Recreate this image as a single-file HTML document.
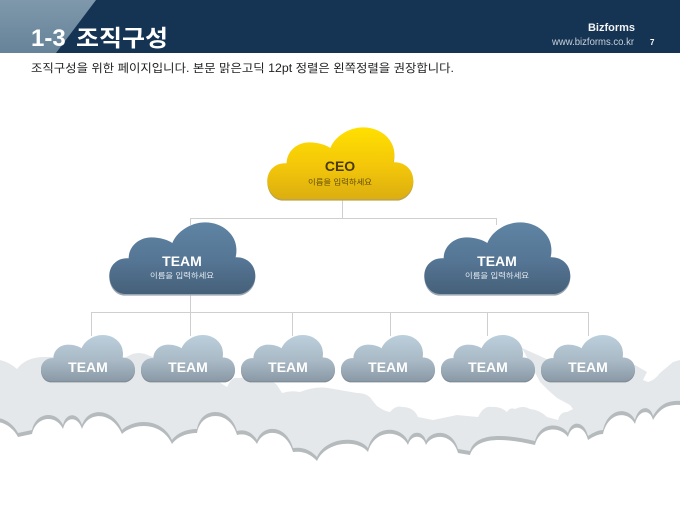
<!DOCTYPE html>
<html><head><meta charset="utf-8"><style>
html,body{margin:0;padding:0;background:#fff}
svg{display:block}
text{font-family:"Liberation Sans","Noto Sans CJK KR",sans-serif}
</style></head><body>
<svg width="680" height="510" viewBox="0 0 680 510" xmlns="http://www.w3.org/2000/svg">
<defs>
<path id="c" d="M100 252C70 252 52 225 52 197C52 165 78 142 110 145C110 108 142 82 178 82C205 82 228 90 241 99C254 66 294 37 340 37C395 37 436 78 433 122C433 129 432 136 430 142C465 140 490 165 490 197C490 228 465 252 440 252Z"/>
<path id="rim" d="M-2 420C6 421 14 427 18 435L32 432C36 414 56 412 63 427C66 414 78 414 82 427C88 409 112 409 122 432C135 420 162 420 172 442C178 434 188 431 197 431C201 408 230 408 237 433C245 431 252 434 257 442C263 426 286 426 293 450Q307 448 317 459C326 439 358 437 368 450C374 427 400 427 408 443C411 432 423 432 426 443C431 432 452 430 458 451L470 453C476 434 505 436 535 443C540 424 560 424 568 435C571 422 584 422 588 438Q597 432 603 432C608 410 628 408 635 422C638 408 650 406 653 418C660 406 668 402 682 403L682 512L-2 512Z"/>
<linearGradient id="gy" x1="0" y1="0" x2="0" y2="1"><stop offset="0" stop-color="#ffe000"/><stop offset=".55" stop-color="#f3c60a"/><stop offset="1" stop-color="#dcae10"/></linearGradient>
<linearGradient id="gb" x1="0" y1="0" x2="0" y2="1"><stop offset="0" stop-color="#5f84a4"/><stop offset=".55" stop-color="#557594"/><stop offset="1" stop-color="#456079"/></linearGradient>
<linearGradient id="gs" x1="0" y1="0" x2="0" y2="1"><stop offset="0" stop-color="#bccfdc"/><stop offset=".55" stop-color="#a9bac6"/><stop offset="1" stop-color="#8a99a5"/></linearGradient>
<linearGradient id="gh" x1="0" y1="0" x2="0" y2="1"><stop offset="0" stop-color="#7f98ab"/><stop offset="1" stop-color="#668399"/></linearGradient>
</defs>

<rect width="680" height="510" fill="#fff"/>

<!-- background clouds -->
<path fill="#e5e8ea" d="M0 360Q9 362 17 369Q25 358 42 357L60 357L125 358Q137 349 150 356L200 370L227 387Q232 376 238 378Q268 376 277 385L282 393Q291 390 300 392Q315 386 328 388L357 393Q368 393 372 400L377 406Q384 411 390 412Q396 405 402 407Q414 407 418 417L433 420L457 415L478 417Q484 405 492 407Q500 406 507 412Q510 407 515 409Q523 405 530 409Q540 410 547 417L558 420Q560 412 567 412L573 409L570 405L557 398L548 390L540 382L522 348L560 365L635 365L647 372L643 380L648 382Q655 380 660 373L673 362L680 360L680 470L0 470Z"/>
<use href="#rim" y="-2" fill="#b5babd"/>
<use href="#rim" y="2" fill="#fff"/>

<!-- header -->
<rect width="680" height="53" fill="#153353"/>
<polygon points="0,0 96,0 56,53 0,53" fill="url(#gh)"/>
<text x="31" y="46" font-size="24" font-weight="700" fill="#fff">1-3</text>
<text x="76" y="46" font-size="23" font-weight="700" fill="#fff" textLength="92" lengthAdjust="spacingAndGlyphs">조직구성</text>
<text x="635" y="31" text-anchor="end" font-size="11" font-weight="700" fill="#f2f4f6" textLength="47" lengthAdjust="spacingAndGlyphs">Bizforms</text>
<text x="634" y="45" text-anchor="end" font-size="10" fill="#c9d2da" textLength="82" lengthAdjust="spacingAndGlyphs">www.bizforms.co.kr</text>
<text x="650" y="45" font-size="8" font-weight="700" fill="#fff">7</text>
<text x="31" y="72" font-size="11.5" fill="#222" textLength="423" lengthAdjust="spacingAndGlyphs">조직구성을 위한 페이지입니다. 본문 맑은고딕 12pt 정렬은 왼쪽정렬을 권장합니다.</text>

<!-- connectors -->
<g fill="none" stroke="#cfcfcf" stroke-width="1">
<path d="M342.5 200V218.5M190.5 225V218.5H496.5V225"/>
<path d="M190.5 294V336M91.5 336V312.5H588.5V336M292.5 312.5V336M390.5 312.5V336M487.5 312.5V336"/>
</g>

<!-- CEO -->
<g transform="translate(250,115) scale(.3333)">
<use href="#c" y="5" fill="#bda64a"/>
<use href="#c" fill="url(#gy)"/>
</g>
<text x="340" y="171" text-anchor="middle" font-size="14" font-weight="700" fill="#4a3b06">CEO</text>
<text x="340" y="184.500" text-anchor="middle" font-size="7.5" fill="#5e4c08" textLength="64" lengthAdjust="spacingAndGlyphs">이름을 입력하세요</text>

<!-- Teams -->
<g transform="translate(92,210) scale(.3333)"><use href="#c" y="5" fill="#9aa7b3"/><use href="#c" fill="url(#gb)"/></g>
<text x="182" y="266" text-anchor="middle" font-size="14" font-weight="700" fill="#fff">TEAM</text>
<text x="182" y="278" text-anchor="middle" font-size="7.5" fill="#e4ebf1" textLength="64" lengthAdjust="spacingAndGlyphs">이름을 입력하세요</text>
<g transform="translate(407,210) scale(.3333)"><use href="#c" y="5" fill="#9aa7b3"/><use href="#c" fill="url(#gb)"/></g>
<text x="497" y="266" text-anchor="middle" font-size="14" font-weight="700" fill="#fff">TEAM</text>
<text x="497" y="278" text-anchor="middle" font-size="7.5" fill="#e4ebf1" textLength="64" lengthAdjust="spacingAndGlyphs">이름을 입력하세요</text>

<!-- small teams -->
<g transform="translate(29.84,327.06) scale(.2146)"><use href="#c" y="6" fill="#7f8c97"/><use href="#c" fill="url(#gs)"/></g>
<text x="88" y="372" text-anchor="middle" font-size="14" font-weight="700" fill="#fff">TEAM</text>
<g transform="translate(129.84,327.06) scale(.2146)"><use href="#c" y="6" fill="#7f8c97"/><use href="#c" fill="url(#gs)"/></g>
<text x="188" y="372" text-anchor="middle" font-size="14" font-weight="700" fill="#fff">TEAM</text>
<g transform="translate(229.84,327.06) scale(.2146)"><use href="#c" y="6" fill="#7f8c97"/><use href="#c" fill="url(#gs)"/></g>
<text x="288" y="372" text-anchor="middle" font-size="14" font-weight="700" fill="#fff">TEAM</text>
<g transform="translate(329.84,327.06) scale(.2146)"><use href="#c" y="6" fill="#7f8c97"/><use href="#c" fill="url(#gs)"/></g>
<text x="388" y="372" text-anchor="middle" font-size="14" font-weight="700" fill="#fff">TEAM</text>
<g transform="translate(429.84,327.06) scale(.2146)"><use href="#c" y="6" fill="#7f8c97"/><use href="#c" fill="url(#gs)"/></g>
<text x="488" y="372" text-anchor="middle" font-size="14" font-weight="700" fill="#fff">TEAM</text>
<g transform="translate(529.84,327.06) scale(.2146)"><use href="#c" y="6" fill="#7f8c97"/><use href="#c" fill="url(#gs)"/></g>
<text x="588" y="372" text-anchor="middle" font-size="14" font-weight="700" fill="#fff">TEAM</text>
</svg>
</body></html>
